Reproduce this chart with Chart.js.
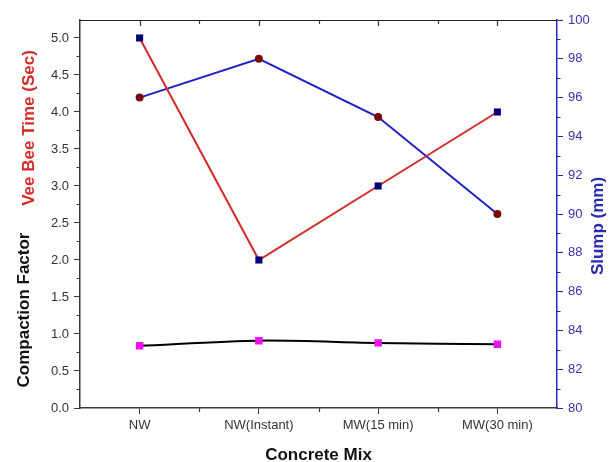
<!DOCTYPE html>
<html>
<head>
<meta charset="utf-8">
<title>Concrete Mix</title>
<script src="https://cdn.jsdelivr.net/npm/chart.js@4"></script>
<style>
  html, body { margin: 0; padding: 0; background: #fff; }
  #wrap { width: 613px; height: 462px; }
</style>
</head>
<body>
<div id="wrap"><canvas id="mixChart" width="613" height="462"></canvas></div>
<script>
  'use strict';

  const categories = ['NW', 'NW(Instant)', 'MW(15 min)', 'MW(30 min)'];
  const veeBeeTime = [5.0, 2.0, 3.0, 4.0];          // sec, left axis
  const slump = [96, 98, 95, 90];                   // mm, right axis
  const compactionFactor = [0.84, 0.91, 0.88, 0.86]; // left axis

  const leftMin = 0, leftMax = 5.243, leftStep = 0.5;
  const rightMin = 80, rightMax = 100, rightStep = 2;

  const RED = '#d42b26';
  const BLUE = '#1f1fc6';
  const AXIS_BLUE = '#2a2ab4';
  const GREY = '#3a3a3a';
  const FONT = "'Liberation Sans', Arial, sans-serif";

  Chart.defaults.font.family = FONT;

  // minor ticks, top frame line and the rotated axis titles
  const frameAndTitles = {
    id: 'frameAndTitles',
    afterDraw(chart) {
      const ctx = chart.ctx;
      const area = chart.chartArea;
      const y = chart.scales.y;
      const y1 = chart.scales.y1;
      const x = chart.scales.x;

      ctx.save();
      ctx.lineWidth = 1.2;

      // top frame
      ctx.strokeStyle = '#222';
      ctx.beginPath();
      ctx.moveTo(area.left, area.top + 0.5);
      ctx.lineTo(area.right, area.top + 0.5);
      ctx.stroke();

      // left minor ticks
      ctx.strokeStyle = GREY;
      ctx.beginPath();
      for (let v = leftStep / 2; v < leftMax; v += leftStep) {
        const py = Math.round(y.getPixelForValue(v)) + 0.5;
        ctx.moveTo(area.left, py);
        ctx.lineTo(area.left - 3.5, py);
      }
      ctx.stroke();

      // right minor ticks
      ctx.strokeStyle = AXIS_BLUE;
      ctx.beginPath();
      for (let v = rightMin + rightStep / 2; v < rightMax; v += rightStep) {
        const py = Math.round(y1.getPixelForValue(v)) + 0.5;
        ctx.moveTo(area.right, py);
        ctx.lineTo(area.right + 3.5, py);
      }
      ctx.stroke();

      // bottom minor ticks between categories, top ticks pointing inward
      ctx.strokeStyle = GREY;
      ctx.beginPath();
      for (let i = 0; i < categories.length; i++) {
        const px = Math.round(x.getPixelForValue(i)) + 0.5;
        ctx.moveTo(px, area.top);
        ctx.lineTo(px, area.top + 6);
        if (i > 0) {
          const mid = Math.round((x.getPixelForValue(i - 1) + x.getPixelForValue(i)) / 2) + 0.5;
          ctx.moveTo(mid, area.bottom);
          ctx.lineTo(mid, area.bottom + 4);
          ctx.moveTo(mid, area.top);
          ctx.lineTo(mid, area.top + 4);
        }
      }
      ctx.stroke();

      // axis titles
      ctx.font = 'bold 17px ' + FONT;
      ctx.textAlign = 'center';
      ctx.textBaseline = 'middle';

      ctx.save();
      ctx.translate(29, 128);
      ctx.rotate(-Math.PI / 2);
      ctx.fillStyle = RED;
      ctx.fillText('Vee Bee Time (Sec)', 0, 0);
      ctx.restore();

      ctx.save();
      ctx.translate(24, 310);
      ctx.rotate(-Math.PI / 2);
      ctx.fillStyle = '#111';
      ctx.fillText('Compaction Factor', 0, 0);
      ctx.restore();

      ctx.save();
      ctx.translate(598, 226);
      ctx.rotate(-Math.PI / 2);
      ctx.fillStyle = AXIS_BLUE;
      ctx.fillText('Slump (mm)', 0, 0);
      ctx.restore();

      ctx.fillStyle = '#111';
      ctx.fillText('Concrete Mix', (area.left + area.right) / 2, 455);

      ctx.restore();
    }
  };

  const ctx = document.getElementById('mixChart').getContext('2d');

  new Chart(ctx, {
    type: 'line',
    data: {
      labels: categories,
      datasets: [
        {
          label: 'Vee Bee Time',
          data: veeBeeTime,
          yAxisID: 'y',
          borderColor: RED,
          borderWidth: 2,
          pointStyle: 'rect',
          pointRadius: 5,
          pointBackgroundColor: '#00007a',
          pointBorderColor: '#00007a',
          pointBorderWidth: 0,
          tension: 0
        },
        {
          label: 'Slump',
          data: slump,
          yAxisID: 'y1',
          borderColor: BLUE,
          borderWidth: 2,
          pointStyle: 'circle',
          pointRadius: 4,
          pointBackgroundColor: '#780a0a',
          pointBorderColor: '#780a0a',
          pointBorderWidth: 0,
          tension: 0
        },
        {
          label: 'Compaction Factor',
          data: compactionFactor,
          yAxisID: 'y',
          borderColor: '#000',
          borderWidth: 2,
          pointStyle: 'rect',
          pointRadius: 5.3,
          pointBackgroundColor: '#ee10ee',
          pointBorderColor: '#ee10ee',
          pointBorderWidth: 0,
          tension: 0.3
        }
      ]
    },
    options: {
      responsive: false,
      animation: false,
      layout: { padding: { top: 20, right: 0, left: 0, bottom: 0 } },
      plugins: {
        legend: { display: false },
        tooltip: { enabled: false }
      },
      scales: {
        x: {
          type: 'category',
          offset: true,
          afterFit(scale) { scale.height = 54; },
          border: { display: true, color: GREY, width: 1.5 },
          grid: { drawOnChartArea: false, drawTicks: true, tickLength: 6, color: GREY, offset: false },
          ticks: { color: '#333', font: { size: 13 }, padding: 4, maxRotation: 0 }
        },
        y: {
          type: 'linear',
          position: 'left',
          min: leftMin,
          max: leftMax,
          afterFit(scale) { scale.width = 80; },
          afterBuildTicks(scale) {
            scale.ticks = scale.ticks.filter(t => Math.abs(t.value / leftStep - Math.round(t.value / leftStep)) < 1e-6);
          },
          border: { display: true, color: GREY, width: 1.5 },
          grid: { drawOnChartArea: false, drawTicks: true, tickLength: 6, color: GREY },
          ticks: {
            stepSize: leftStep,
            color: '#333',
            font: { size: 13 },
            padding: 5,
            callback: v => Number(v).toFixed(1)
          }
        },
        y1: {
          type: 'linear',
          position: 'right',
          min: rightMin,
          max: rightMax,
          afterFit(scale) { scale.width = 56; },
          border: { display: true, color: AXIS_BLUE, width: 1.5 },
          grid: { drawOnChartArea: false, drawTicks: true, tickLength: 6, color: AXIS_BLUE },
          ticks: { stepSize: rightStep, color: '#3434a8', font: { size: 13 }, padding: 5 }
        }
      }
    },
    plugins: [frameAndTitles]
  });
</script>
</body>
</html>
